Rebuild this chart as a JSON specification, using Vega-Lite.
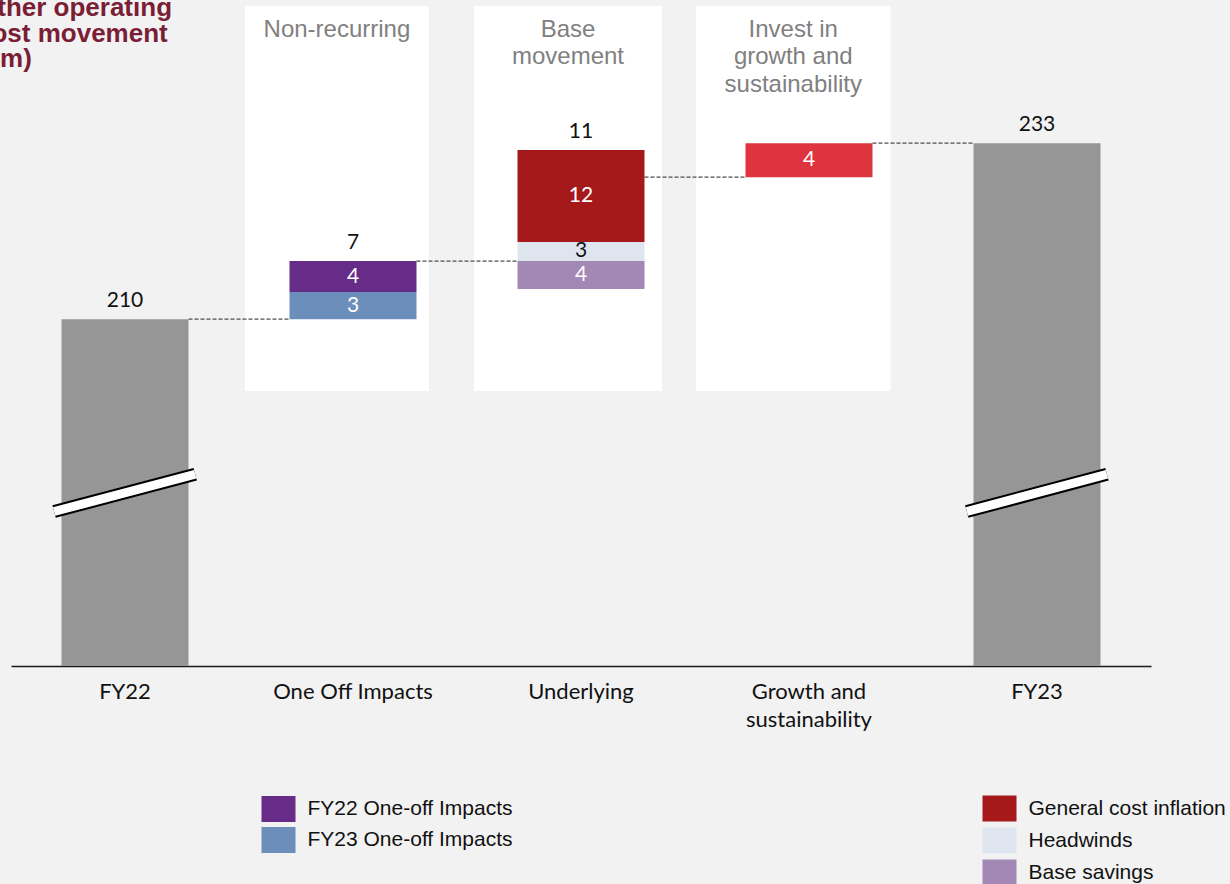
{
  "$schema": "https://vega.github.io/schema/vega-lite/v6.json",
  "width": 1140,
  "height": 666,
  "autosize": {"type": "none"},
  "padding": {"left": 11, "top": 0, "right": 79, "bottom": 218},
  "background": "#f2f2f2",
  "config": {
    "view": {"stroke": null},
    "font": "Liberation Sans",
    "axisX": {
      "domainColor": "#1a1a1a",
      "domainWidth": 1.3,
      "ticks": false,
      "grid": false,
      "labelFont": "Lato",
      "labelFontSize": 22,
      "labelColor": "#111111",
      "labelPadding": 15,
      "labelAngle": 0,
      "labelLimit": 0,
      "labelLineHeight": 28,
      "labelBound": false,
      "labelOverlap": false
    }
  },
  "title": {
    "text": ["Other operating", "cost movement", "($m)"],
    "anchor": "start",
    "frame": "group",
    "orient": "top",
    "offset": 0,
    "dx": -34,
    "dy": 72,
    "baseline": "top",
    "font": "Liberation Sans",
    "fontSize": 26,
    "fontWeight": "bold",
    "lineHeight": 25.5,
    "color": "#7a1e36"
  },
  "datasets": {
    "bars": [
      {"cat": "One Off Impacts", "grp": "oneoff", "seg": "FY23 One-off Impacts", "start": 210, "end": 213.55, "label": "3"},
      {"cat": "One Off Impacts", "grp": "oneoff", "seg": "FY22 One-off Impacts", "start": 213.55, "end": 217.6, "label": "4"},
      {"cat": "Underlying", "grp": "underlying", "seg": "Base savings", "start": 217.6, "end": 213.95, "label": "4"},
      {"cat": "Underlying", "grp": "underlying", "seg": "Headwinds", "start": 217.6, "end": 220.1, "label": "3"},
      {"cat": "Underlying", "grp": "underlying", "seg": "General cost inflation", "start": 220.1, "end": 232.1, "label": "12"},
      {"cat": "Growth and sustainability", "grp": "growth", "seg": "Invest in growth and sustainability", "start": 228.55, "end": 233, "label": "4"}
    ],
    "totals": [
      {"cat": "FY22", "kind": "total", "value": 210, "base": 0, "label": "210"},
      {"cat": "One Off Impacts", "kind": "step", "value": 217.6, "base": 210, "label": "7"},
      {"cat": "Underlying", "kind": "step", "value": 232.1, "base": 217.6, "label": "11"},
      {"cat": "FY23", "kind": "total", "value": 233, "base": 0, "label": "233"}
    ],
    "connectors": [
      {"from": "FY22", "to": "One Off Impacts", "level": 210},
      {"from": "One Off Impacts", "to": "Underlying", "level": 217.6},
      {"from": "Underlying", "to": "Growth and sustainability", "level": 228.55},
      {"from": "Growth and sustainability", "to": "FY23", "level": 233}
    ],
    "panels": [
      {"label": "Non-recurring", "x0": 0.526, "x1": 1.333, "top": 250.92, "bottom": 200.62},
      {"label": "Base\nmovement", "x0": 1.531, "x1": 2.355, "top": 250.92, "bottom": 200.62},
      {"label": "Invest in\ngrowth and\nsustainability", "x0": 2.504, "x1": 3.358, "top": 250.92, "bottom": 200.62}
    ],
    "breaks": [
      {"cat": "FY22", "x0": -0.311, "x1": 0.308, "y0": 184.88, "y1": 189.75},
      {"cat": "FY23", "x0": 3.692, "x1": 4.307, "y0": 184.88, "y1": 189.75}
    ]
  },
  "layer": [
    {
      "data": {"name": "panels"},
      "mark": {"type": "rect", "color": "#ffffff"},
      "encoding": {
        "x": {"field": "x0", "type": "quantitative", "scale": {"domain": [-0.5, 4.5], "nice": false, "zero": false}, "axis": null},
        "x2": {"field": "x1"},
        "y": {"field": "top", "type": "quantitative", "scale": {"domain": [164.7, 251.7], "nice": false, "zero": false, "clamp": true}, "axis": null},
        "y2": {"field": "bottom"}
      }
    },
    {
      "data": {"name": "panels"},
      "transform": [{"calculate": "(datum.x0 + datum.x1) / 2", "as": "xm"}],
      "mark": {"type": "text", "font": "Liberation Sans", "fontSize": 24, "color": "#808080", "baseline": "top", "align": "center", "lineBreak": "\n", "lineHeight": 27.5, "dy": 12},
      "encoding": {
        "x": {"field": "xm", "type": "quantitative", "scale": {"domain": [-0.5, 4.5], "nice": false, "zero": false}, "axis": null},
        "y": {"field": "top", "type": "quantitative", "axis": null},
        "text": {"field": "label"}
      }
    },
    {
      "data": {"name": "connectors"},
      "mark": {"type": "rule", "color": "#4d4d4d", "strokeWidth": 1.2, "strokeDash": [4, 2], "xOffset": 63.5, "x2Offset": -63.5},
      "encoding": {
        "x": {"field": "from", "type": "nominal", "scale": {"type": "band", "domain": ["FY22", "One Off Impacts", "Underlying", "Growth and sustainability", "FY23"], "paddingInner": 0.443, "paddingOuter": 0.2215}, "axis": null},
        "x2": {"field": "to"},
        "y": {"field": "level", "type": "quantitative", "axis": null}
      }
    },
    {
      "data": {"name": "totals"},
      "transform": [{"filter": "datum.kind == 'total'"}],
      "mark": {"type": "bar", "color": "#969696"},
      "encoding": {
        "x": {"field": "cat", "type": "nominal", "title": null, "scale": {"type": "band", "domain": ["FY22", "One Off Impacts", "Underlying", "Growth and sustainability", "FY23"], "paddingInner": 0.443, "paddingOuter": 0.2215}, "axis": {"title": null, "labelExpr": "datum.value == 'Growth and sustainability' ? ['Growth and', 'sustainability'] : datum.value"}},
        "y": {"field": "value", "type": "quantitative", "axis": null},
        "y2": {"field": "base"}
      }
    },
    {
      "data": {"name": "bars"},
      "transform": [{"filter": "datum.grp == 'oneoff'"}],
      "mark": {"type": "bar"},
      "encoding": {
        "x": {"field": "cat", "type": "nominal", "scale": {"type": "band", "domain": ["FY22", "One Off Impacts", "Underlying", "Growth and sustainability", "FY23"], "paddingInner": 0.443, "paddingOuter": 0.2215}, "axis": null},
        "y": {"field": "start", "type": "quantitative", "axis": null},
        "y2": {"field": "end"},
        "color": {
          "field": "seg", "type": "nominal",
          "scale": {"domain": ["FY22 One-off Impacts", "FY23 One-off Impacts"], "range": ["#662c87", "#6c8ebb"]},
          "legend": {"orient": "none", "legendX": 250.5, "legendY": 792, "title": null, "padding": 0, "offset": 0, "symbolType": "M-1,-0.765H1V0.765H-1Z", "symbolSize": 1156, "symbolStrokeWidth": 0, "symbolOpacity": 1, "labelFont": "Liberation Sans", "labelFontSize": 21, "labelColor": "#111111", "labelOffset": 12, "rowPadding": 0, "labelLimit": 0}
        }
      }
    },
    {
      "data": {"name": "bars"},
      "transform": [{"filter": "datum.grp == 'underlying'"}],
      "mark": {"type": "bar"},
      "encoding": {
        "x": {"field": "cat", "type": "nominal", "scale": {"type": "band", "domain": ["FY22", "One Off Impacts", "Underlying", "Growth and sustainability", "FY23"], "paddingInner": 0.443, "paddingOuter": 0.2215}, "axis": null},
        "y": {"field": "start", "type": "quantitative", "axis": null},
        "y2": {"field": "end"},
        "color": {
          "field": "seg", "type": "nominal",
          "scale": {"domain": ["General cost inflation", "Headwinds", "Base savings"], "range": ["#a6191b", "#dfe5ef", "#a387b5"]},
          "legend": {"orient": "none", "legendX": 971.5, "legendY": 791.5, "title": null, "padding": 0, "offset": 0, "symbolType": "M-1,-0.765H1V0.765H-1Z", "symbolSize": 1156, "symbolStrokeWidth": 0, "symbolOpacity": 1, "labelFont": "Liberation Sans", "labelFontSize": 21, "labelColor": "#111111", "labelOffset": 12, "rowPadding": 1, "labelLimit": 0}
        }
      }
    },
    {
      "data": {"name": "bars"},
      "transform": [{"filter": "datum.grp == 'growth'"}],
      "mark": {"type": "bar", "color": "#de3440"},
      "encoding": {
        "x": {"field": "cat", "type": "nominal", "scale": {"type": "band", "domain": ["FY22", "One Off Impacts", "Underlying", "Growth and sustainability", "FY23"], "paddingInner": 0.443, "paddingOuter": 0.2215}, "axis": null},
        "y": {"field": "start", "type": "quantitative", "axis": null},
        "y2": {"field": "end"}
      }
    },
    {
      "data": {"name": "bars"},
      "transform": [{"calculate": "(datum.start + datum.end) / 2", "as": "mid"}],
      "mark": {"type": "text", "font": "Lato", "fontSize": 21, "baseline": "middle", "align": "center"},
      "encoding": {
        "x": {"field": "cat", "type": "nominal", "scale": {"type": "band", "domain": ["FY22", "One Off Impacts", "Underlying", "Growth and sustainability", "FY23"], "paddingInner": 0.443, "paddingOuter": 0.2215}, "axis": null},
        "y": {"field": "mid", "type": "quantitative", "axis": null},
        "text": {"field": "label"},
        "color": {"condition": {"test": "datum.seg == 'Headwinds'", "value": "#111111"}, "value": "#ffffff"}
      }
    },
    {
      "data": {"name": "totals"},
      "mark": {"type": "text", "font": "Lato", "fontSize": 21, "baseline": "middle", "align": "center", "dy": -18, "color": "#111111"},
      "encoding": {
        "x": {"field": "cat", "type": "nominal", "scale": {"type": "band", "domain": ["FY22", "One Off Impacts", "Underlying", "Growth and sustainability", "FY23"], "paddingInner": 0.443, "paddingOuter": 0.2215}, "axis": null},
        "y": {"field": "value", "type": "quantitative", "axis": null},
        "text": {"field": "label"}
      }
    },
    {
      "data": {"name": "breaks"},
      "mark": {"type": "rule", "color": "#000000", "strokeWidth": 13, "strokeCap": "butt"},
      "encoding": {
        "x": {"field": "x0", "type": "quantitative", "scale": {"domain": [-0.5, 4.5], "nice": false, "zero": false}, "axis": null},
        "x2": {"field": "x1"},
        "y": {"field": "y0", "type": "quantitative", "axis": null},
        "y2": {"field": "y1"}
      }
    },
    {
      "data": {"name": "breaks"},
      "mark": {"type": "rule", "color": "#ffffff", "strokeWidth": 9, "strokeCap": "butt"},
      "encoding": {
        "x": {"field": "x0", "type": "quantitative", "scale": {"domain": [-0.5, 4.5], "nice": false, "zero": false}, "axis": null},
        "x2": {"field": "x1"},
        "y": {"field": "y0", "type": "quantitative", "axis": null},
        "y2": {"field": "y1"}
      }
    }
  ],
  "resolve": {"scale": {"x": "independent", "color": "independent"}, "legend": {"color": "independent"}}
}
